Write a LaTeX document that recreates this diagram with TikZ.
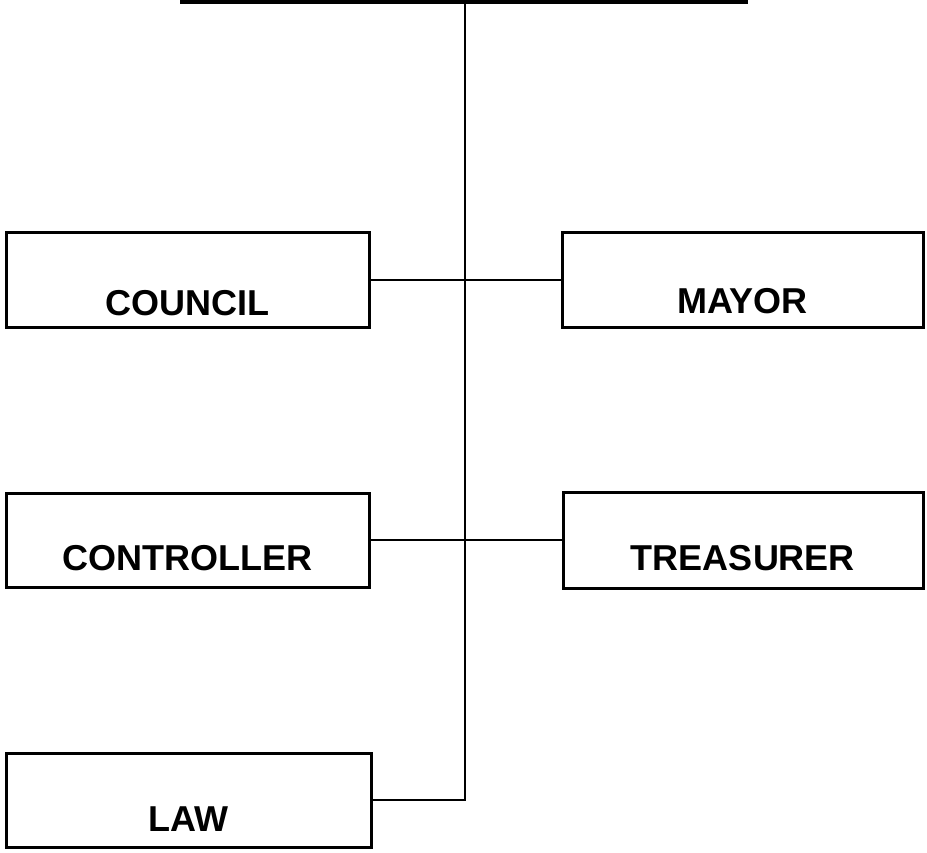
\documentclass[tikz,border=0pt]{standalone}
\usepackage{fontspec}
\setmainfont{Liberation Sans}
\begin{document}
\begin{tikzpicture}[x=1pt,y=-1pt,
  orgbox/.style={draw=black, line width=3pt, fill=white, inner sep=0pt},
  lbl/.style={font=\fontsize{36}{40}\selectfont\bfseries, inner sep=0pt},
  conn/.style={draw=black, line width=1.6pt}]
\clip (0,0) rectangle (927,853);
\fill[white] (0,0) rectangle (927,853);
% partially visible top box
\node[orgbox, line width=3.5pt, minimum width=564pt, minimum height=80pt] (top) at (464,-38.2) {};
% boxes
\node[orgbox, minimum width=363pt, minimum height=94pt] (council) at (187.5,280) {};
\node[orgbox, minimum width=361pt, minimum height=94pt] (mayor) at (742.5,280) {};
\node[orgbox, minimum width=363pt, minimum height=94pt] (controller) at (187.5,540) {};
\node[orgbox, minimum width=360pt, minimum height=96pt] (treasurer) at (743,540) {};
\node[orgbox, minimum width=365pt, minimum height=94pt] (law) at (188.5,800) {};
% labels
\node[lbl] (councilT) at ([yshift=-23pt]council.center) {COUNCIL};
\node[lbl] (mayorT) at ([yshift=-21pt]mayor.center) {MAYOR};
\node[lbl] (controllerT) at ([yshift=-18pt]controller.center) {CONTROLLER};
\node[lbl] (treasurerT) at ([yshift=-18pt]treasurer.center) {TREASURER};
\node[lbl] (lawT) at ([yshift=-19pt]law.center) {LAW};
% connectors
\coordinate (spine) at (465,0);
\draw[conn] (top.south -| spine) |- (law.east);
\draw[conn] (council.east) -- (mayor.west);
\draw[conn] (controller.east) -- (treasurer.west);
\end{tikzpicture}
\end{document}
